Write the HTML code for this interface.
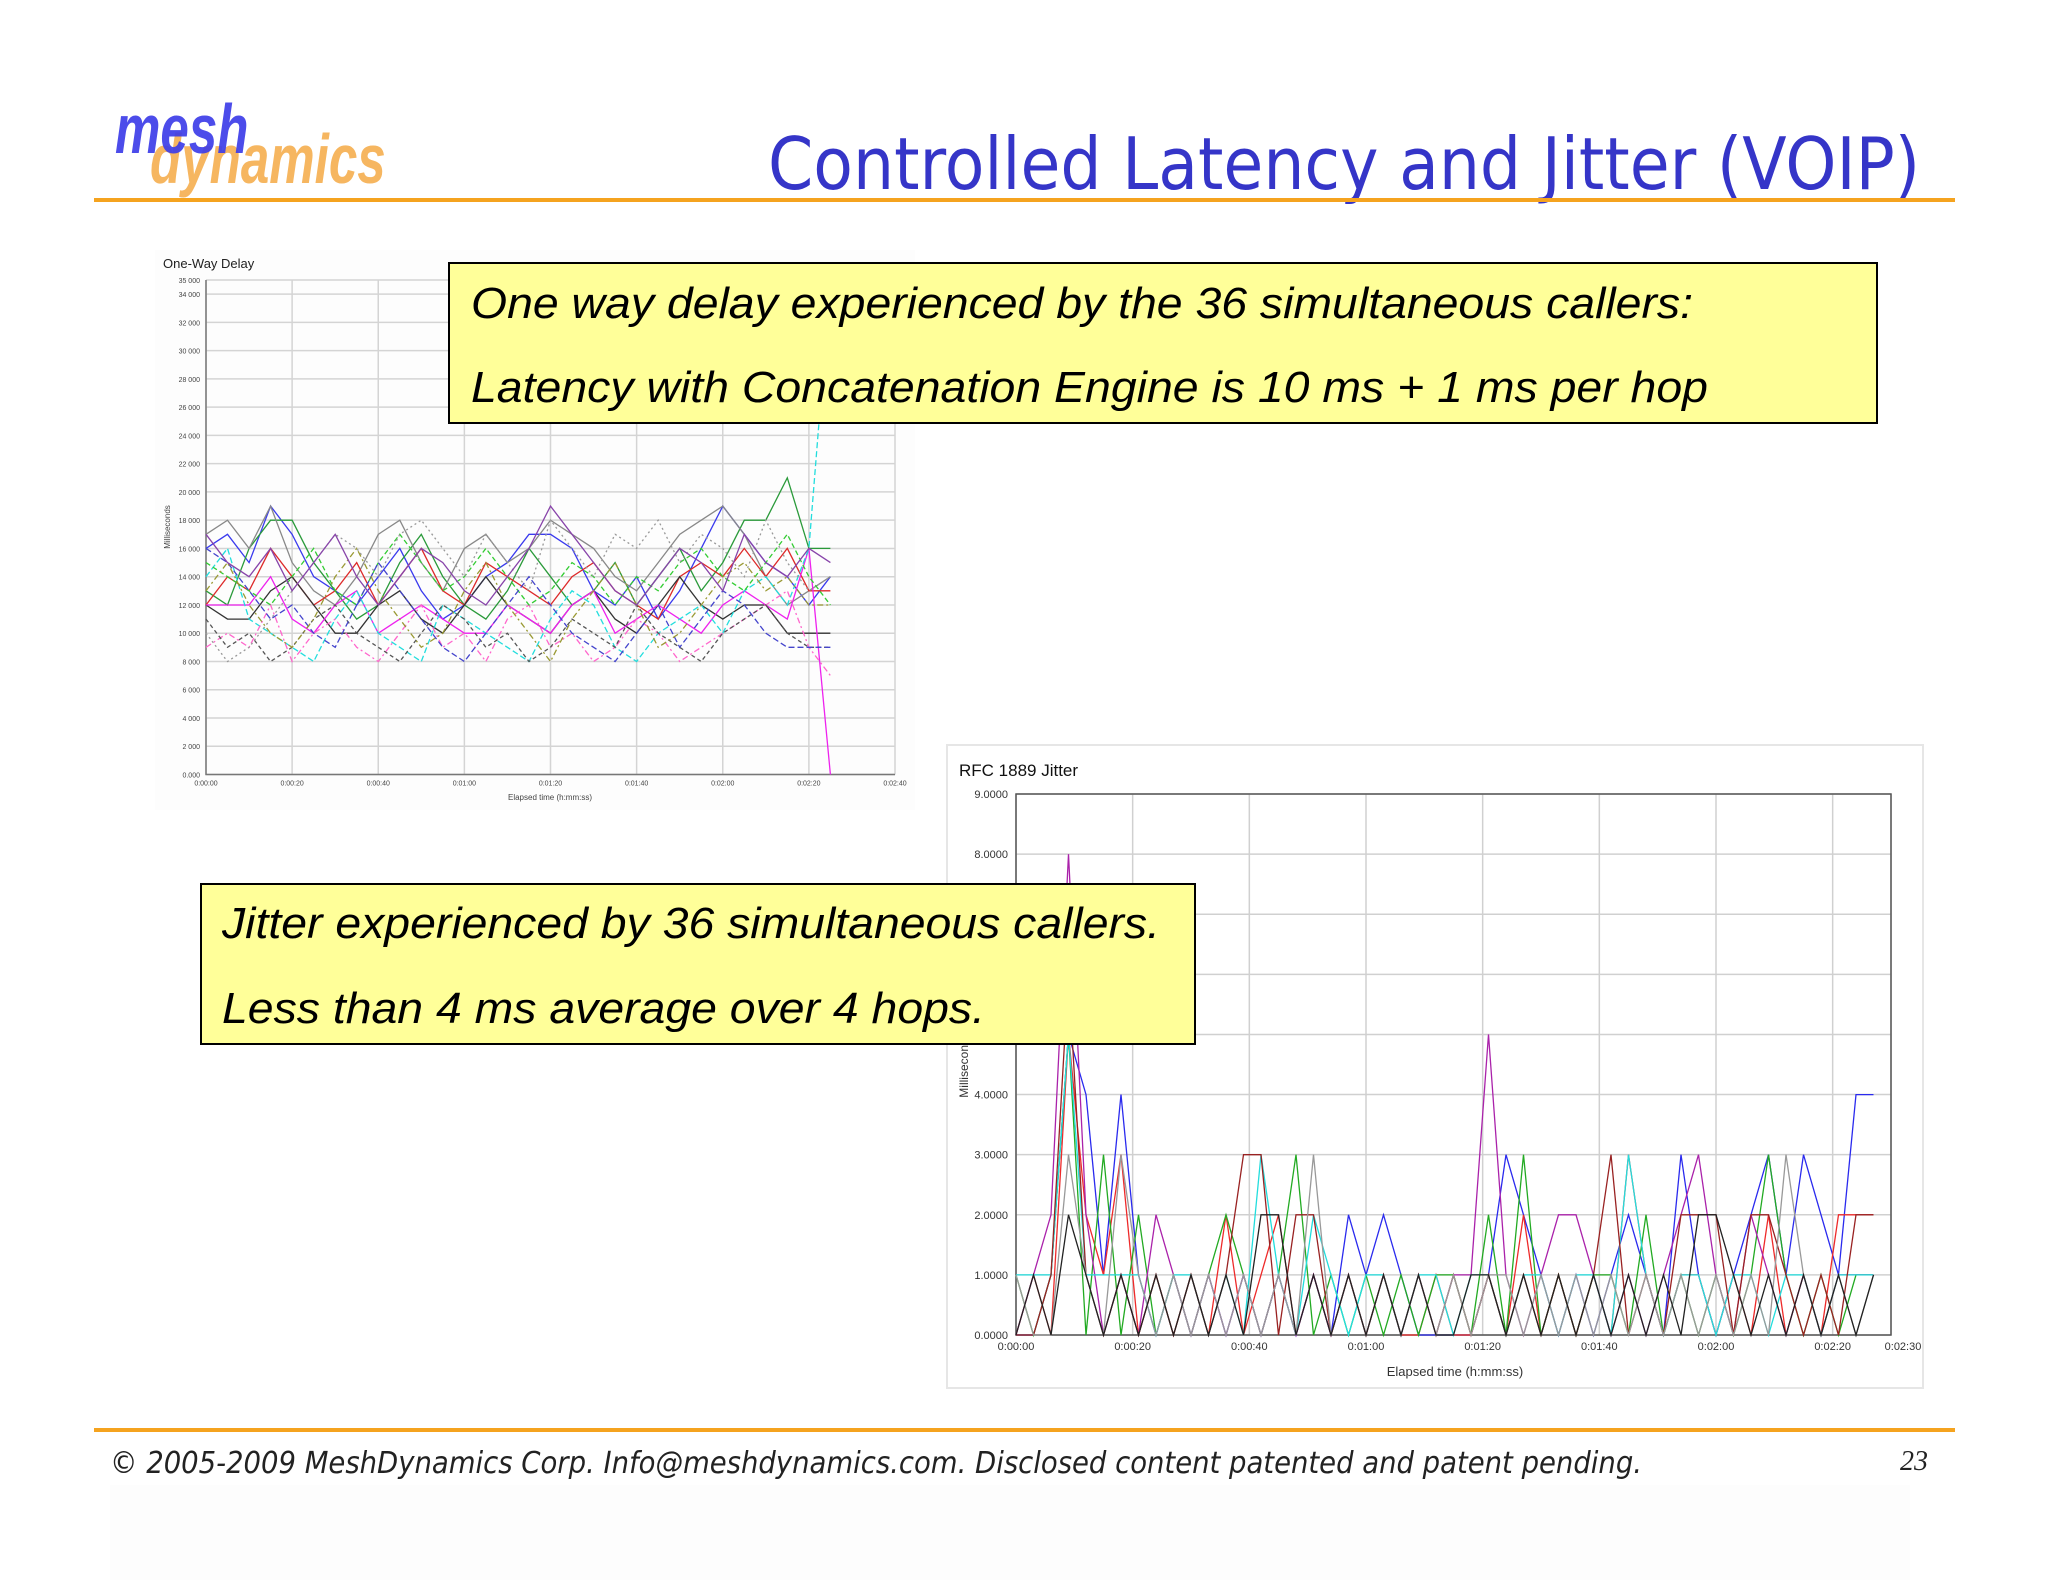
<!DOCTYPE html>
<html><head><meta charset="utf-8"><style>
html,body{margin:0;padding:0;background:#fff;}
svg{display:block;}
</style></head><body>
<svg id="page" width="2048" height="1582" viewBox="0 0 2048 1582" xmlns="http://www.w3.org/2000/svg" font-family="Liberation Sans, Arial, sans-serif">
<rect width="2048" height="1582" fill="#ffffff"/>
<rect x="110" y="1485" width="1800" height="95" fill="#fdfdfd"/>
<g>
  <text x="150" y="183" font-size="70" font-weight="bold" font-style="italic" fill="#f6b660" transform="translate(150,0) scale(0.73,1) translate(-150,0)">dynamics</text>
  <text x="115" y="153" font-size="70" font-weight="bold" font-style="italic" fill="#3d3de8" fill-opacity="0.92" transform="translate(115,0) scale(0.73,1) translate(-115,0)">mesh</text>
</g>
<text x="768" y="189" font-size="72" fill="#3535c8" font-family="DejaVu Sans, Liberation Sans, sans-serif" textLength="1152" lengthAdjust="spacingAndGlyphs">Controlled Latency and Jitter (VOIP)</text>
<rect x="94" y="198" width="1861" height="4" fill="#f5a31f"/>

<g id="chart1"></g>
<g id="chart2"></g>

<g>
  <rect x="449" y="263" width="1428" height="160" fill="#ffff99" stroke="#000" stroke-width="2"/>
  <text x="471" y="318" font-size="44" font-style="italic" fill="#000" textLength="1222" lengthAdjust="spacingAndGlyphs">One way delay experienced by the 36 simultaneous callers:</text>
  <text x="471" y="402" font-size="44" font-style="italic" fill="#000" textLength="1237" lengthAdjust="spacingAndGlyphs">Latency with Concatenation Engine is 10 ms + 1 ms per hop</text>
</g>
<g>
  <rect x="201" y="884" width="994" height="160" fill="#ffff99" stroke="#000" stroke-width="2"/>
  <text x="222" y="938" font-size="44" font-style="italic" fill="#000" textLength="938" lengthAdjust="spacingAndGlyphs">Jitter experienced by 36 simultaneous callers.</text>
  <text x="222" y="1023" font-size="44" font-style="italic" fill="#000" textLength="763" lengthAdjust="spacingAndGlyphs">Less than 4 ms average over 4 hops.</text>
</g>

<rect x="94" y="1428" width="1861" height="4" fill="#f5a31f"/>
<text x="110" y="1473" font-size="30" font-style="italic" fill="#222" font-family="DejaVu Sans, Liberation Sans, sans-serif" textLength="1532" lengthAdjust="spacingAndGlyphs">© 2005-2009 MeshDynamics Corp.   Info@meshdynamics.com.   Disclosed content patented and patent pending.</text>
<text x="1928" y="1470" text-anchor="end" font-size="28" font-style="italic" fill="#222" font-family="Liberation Serif, serif">23</text>
</svg>
<script>
// ---- Chart 1 data: One-Way Delay (thousand ms), 5 s steps ----
var delayTimes = [0,5,10,15,20,25,30,35,40,45,50,55,60,65,70,75,80,85,90,95,100,105,110,115,120,125,130,135,140,145];
var delayYTicks = [0,2000,4000,6000,8000,10000,12000,14000,16000,18000,20000,22000,24000,26000,28000,30000,32000,34000,35000];
var delayXTicks = ["0:00:00","0:00:20","0:00:40","0:01:00","0:01:20","0:01:40","0:02:00","0:02:20","0:02:40"];
var d1 = [16,17,15,19,17,14,13,12,14,16,13,11,12,14,15,17,17,16,13,12,14,11,13,16,19,17,15,14,12,14];
var d2 = [13,12,16,18,18,15,13,11,12,15,17,14,12,11,13,16,14,12,13,15,12,14,16,13,15,18,18,21,16,16];
var d3 = [17,18,16,19,15,13,12,14,17,18,15,13,16,17,15,16,18,17,16,14,13,15,17,18,19,17,14,12,13,14];
var d4 = [12,14,13,16,14,12,13,15,12,14,16,13,12,15,14,13,12,14,15,13,12,11,14,15,14,16,14,16,13,13];
var d5 = [12,11,11,13,14,12,10,10,12,13,11,10,12,14,12,11,10,12,13,11,10,12,14,12,11,12,12,10,10,10];
var d6 = [12,12,12,14,11,10,12,13,10,11,12,11,10,10,12,11,10,12,13,10,11,12,11,10,12,13,12,11,16,0];
var d7 = [14,16,11,10,9,8,11,13,10,9,8,12,11,10,9,8,11,13,12,9,8,10,11,12,10,13,14,12,16,35];
var d8 = [9,10,9,12,8,10,11,9,8,10,12,9,10,8,11,12,9,10,8,9,11,10,8,9,10,11,12,13,9,7];
var d9 = [11,9,10,8,9,11,12,10,9,8,10,12,11,9,10,8,9,11,10,9,12,10,9,8,10,11,12,10,9,9];
var d10 = [15,14,13,12,14,16,13,12,15,17,15,13,14,16,14,12,13,15,14,12,14,13,15,16,14,13,15,17,14,12];
var d11 = [16,15,13,11,12,10,9,12,15,13,11,9,8,10,12,14,12,10,9,8,10,12,9,11,13,12,10,9,9,9];
var d12 = [10,8,9,11,13,15,17,16,14,17,18,16,14,17,15,13,18,16,14,17,16,18,15,17,16,14,18,15,13,14];
var d13 = [13,15,12,10,9,11,14,16,13,11,9,10,13,15,12,10,8,11,13,15,12,9,10,12,14,15,13,14,12,12];
var d14 = [17,15,14,16,13,15,17,14,12,14,16,15,13,12,14,16,19,17,15,13,12,14,16,15,13,17,15,14,16,15];
var delaySeries = [d1,d2,d3,d4,d5,d6,d7,d8,d9,d10,d11,d12,d13,d14];

// ---- Chart 2 data: RFC 1889 Jitter (ms), 3 s steps ----
var jitTimes = [0,3,6,9,12,15,18,21,24,27,30,33,36,39,42,45,48,51,54,57,60,63,66,69,72,75,78,81,84,87,90,93,96,99,102,105,108,111,114,117,120,123,126,129,132,135,138,141,144,147];
var jitYTicks = [0,1,2,3,4,5,6,7,8,9];
var jitXTicks = ["0:00:00","0:00:20","0:00:40","0:01:00","0:01:20","0:01:40","0:02:00","0:02:20","0:02:30"];
var jitXTickVals = [0,20,40,60,80,100,120,140,150];
var j1 = [0,0,1,5,4,1,4,1,0,1,0,1,0,1,0,1,0,1,0,2,1,2,1,0,0,0,0,1,3,2,1,0,1,0,1,2,1,0,3,1,0,1,2,3,1,3,2,1,4,4];
var j2 = [0,1,0,5,2,1,3,0,1,0,1,0,2,0,1,2,0,1,0,1,0,1,0,0,1,0,0,1,0,2,0,1,0,1,0,3,1,0,1,1,0,1,0,2,0,1,0,2,2,2];
var j3 = [1,0,1,5,0,3,0,2,0,1,0,1,2,1,0,1,3,0,1,0,1,0,1,0,1,1,0,2,0,3,0,1,0,1,1,0,2,0,1,0,1,0,1,3,1,0,1,0,1,1];
var j4 = [0,1,2,8,2,0,1,0,2,1,0,1,0,1,0,1,0,1,0,1,0,1,0,1,0,1,1,5,1,0,1,2,2,1,0,1,0,1,2,3,1,0,2,1,0,1,0,1,1,1];
var j5 = [1,1,1,5,1,1,1,1,0,1,1,0,1,0,3,1,0,2,1,0,1,1,0,1,1,0,1,1,0,1,1,0,1,1,0,3,1,0,1,1,0,1,1,0,1,1,0,1,1,1];
var j6 = [0,0,1,6,1,0,1,0,1,0,1,0,1,3,3,0,2,2,0,1,0,1,0,1,0,1,0,1,0,1,0,1,0,1,3,0,1,0,2,2,2,0,2,2,1,0,1,0,2,2];
var j7 = [1,0,0,3,1,0,3,1,0,1,0,1,0,1,0,1,0,3,0,1,0,1,0,1,0,1,0,1,1,0,1,0,1,0,1,0,1,0,1,0,1,0,1,0,3,1,0,1,0,1];
var j8 = [0,1,0,2,1,0,1,0,1,0,1,0,1,0,2,2,0,1,0,1,0,1,0,1,0,0,1,1,0,1,0,1,0,1,0,1,0,1,0,2,2,1,0,1,0,1,0,1,0,1];
var jitSeries = [j1,j2,j3,j4,j5,j6,j7,j8];

var NS = "http://www.w3.org/2000/svg";
function mk(tag, attrs, parent){var e=document.createElementNS(NS,tag);for(var k in attrs)e.setAttribute(k,attrs[k]);parent.appendChild(e);return e;}

var palette1 = ["#3a3aee","#2a9a3a","#888888","#dd2a2a","#333333","#ee22ee","#22dddd","#ff66cc","#555555","#33cc33","#4444cc","#999999","#999933","#8844aa"];
var dash1 = ["","","","","","","6,3","6,3,2,3","4,3","5,3","6,3","2,3","6,3,2,3",""];

// Chart 1
(function(){
  var g = document.getElementById("chart1");
  var L=206,R=895,T=280,B=774.5,maxV=35000,maxT=160;
  function xs(t){return L+(R-L)*t/maxT;}
  function ys(v){return B-(B-T)*v/maxV;}
  var bg = mk("rect",{x:155,y:250,width:760,height:560,fill:"#fdfdfd"},g);
  
  
  var tt = mk("text",{x:163,y:268,"font-size":13,fill:"#222"},g); tt.textContent="One-Way Delay";
  
  
  delayYTicks.forEach(function(v){
    var gl = mk("line",{x1:L,x2:R,y1:ys(v),y2:ys(v),stroke:"#d4d4d4","stroke-width":1.5},g);
    
    
    var lb = mk("text",{x:L-6,y:ys(v)+3,"font-size":7,"text-anchor":"end",fill:"#444"},g);
    lb.textContent=(v/1000).toFixed(3).replace(/^(\d+)\.(\d+)$/,"$1 $2").replace(/^0 000$/,"0.000");
    
    
  });
  delayXTicks.forEach(function(s,i){
    var t=i*20;
    var gl = mk("line",{x1:xs(t),x2:xs(t),y1:T,y2:B,stroke:"#d4d4d4","stroke-width":1.5},g);
    
    
    var lb = mk("text",{x:xs(t),y:B+11,"font-size":7,"text-anchor":"middle",fill:"#444"},g);
    lb.textContent=s;
    
    
  });
  var ax = mk("path",{d:"M"+L+","+T+"V"+B+"H"+R,stroke:"#777",fill:"none","stroke-width":1.5},g);
  
  
  var xt = mk("text",{x:550,y:800,"font-size":8,"text-anchor":"middle",fill:"#444"},g); xt.textContent="Elapsed time (h:mm:ss)";
  
  
  var yt = mk("text",{x:170,y:527,"font-size":8,"text-anchor":"middle",fill:"#444",transform:"rotate(-90 170 527)"},g); yt.textContent="Milliseconds";
  
  
  delaySeries.forEach(function(s,i){
    var d="";
    s.forEach(function(v,k){ d+=(k?"L":"M")+xs(delayTimes[k]).toFixed(1)+","+ys(Math.min(v*1000,maxV)).toFixed(1); });
    var p = mk("path",{d:d,fill:"none",stroke:palette1[i],"stroke-width":1.3,"stroke-dasharray":dash1[i]},g);
    
    
  });
})();

var palette2 = ["#2a2aee","#ee2a2a","#22aa22","#aa22aa","#22dddd","#992222","#999999","#222222"];
var dash2 = ["","","","","","","",""];
// Chart 2
(function(){
  var g = document.getElementById("chart2");
  var L=1016,R=1891,T=794,B=1335,maxV=9,maxT=150;
  function xs(t){return L+(R-L)*t/maxT;}
  function ys(v){return B-(B-T)*v/maxV;}
  var bg = mk("rect",{x:947,y:745,width:976,height:643,fill:"#ffffff",stroke:"#e6e6e6","stroke-width":2},g);
  
  
  var tt = mk("text",{x:959,y:776,"font-size":17,fill:"#111"},g); tt.textContent="RFC 1889 Jitter";
  
  
  jitYTicks.forEach(function(v){
    var gl = mk("line",{x1:L,x2:R,y1:ys(v),y2:ys(v),stroke:"#d0d0d0","stroke-width":1.5},g);
    
    
    var lb = mk("text",{x:L-8,y:ys(v)+4,"font-size":11,"text-anchor":"end",fill:"#333"},g);
    lb.textContent=v.toFixed(4);
    
    
  });
  jitXTicks.forEach(function(s,i){
    var t=jitXTickVals[i];
    var gl = mk("line",{x1:xs(t),x2:xs(t),y1:T,y2:B,stroke:"#d0d0d0","stroke-width":1.5},g);
    
    
    var lb = mk("text",{x:xs(t)+(i==jitXTicks.length-1?12:0),y:B+15,"font-size":11,"text-anchor":"middle",fill:"#333"},g);
    lb.textContent=s;
    
    
  });
  var ax = mk("rect",{x:L,y:T,width:R-L,height:B-T,fill:"none",stroke:"#555","stroke-width":1.5},g);
  
  
  var xt = mk("text",{x:1455,y:1376,"font-size":13,"text-anchor":"middle",fill:"#333"},g); xt.textContent="Elapsed time (h:mm:ss)";
  
  
  var yt = mk("text",{x:968,y:1065,"font-size":12,"text-anchor":"middle",fill:"#333",transform:"rotate(-90 968 1065)"},g); yt.textContent="Milliseconds";
  
  
  jitSeries.forEach(function(s,i){
    var d="";
    s.forEach(function(v,k){ d+=(k?"L":"M")+xs(jitTimes[k]).toFixed(1)+","+ys(v).toFixed(1); });
    var p = mk("path",{d:d,fill:"none",stroke:palette2[i],"stroke-width":1.3,"stroke-dasharray":dash2[i]},g);
    
    
  });
})();
</script>
</body></html>
